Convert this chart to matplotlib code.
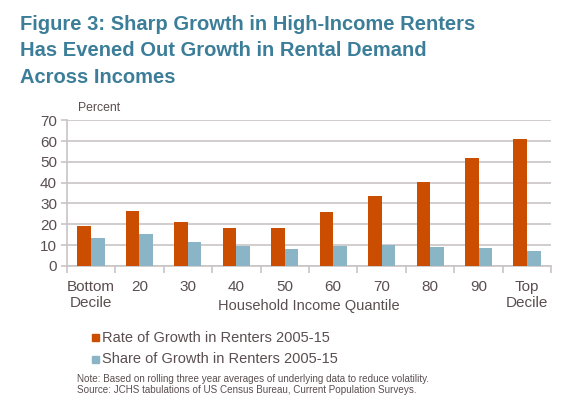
import matplotlib
matplotlib.use('Agg')
import numpy as np
import matplotlib.pyplot as plt
from matplotlib.patches import Rectangle

plt.rcParams['font.family'] = ['Liberation Sans', 'DejaVu Sans']

categories = ['Bottom\nDecile', '20', '30', '40', '50', '60', '70', '80', '90', 'Top\nDecile']
rate_growth = [19.0, 26.5, 21.0, 18.4, 18.3, 25.7, 33.5, 40.3, 51.9, 61.0]
share_growth = [13.6, 15.3, 11.3, 9.4, 8.3, 9.4, 10.1, 9.1, 8.6, 7.0]

ORANGE = '#CB4E00'
BLUE = '#8AB5C7'
TITLE = '#3C7E99'
TEXT = '#5A4E50'
GRID = '#C9C4C5'

fig = plt.figure(figsize=(5.76, 3.98), dpi=100)
ax = fig.add_axes([0.116, 0.332, 0.841, 0.366])

x = np.arange(len(categories))
w = 0.28
ax.bar(x - w / 2, rate_growth, w, color=ORANGE, zorder=3)
ax.bar(x + w / 2, share_growth, w, color=BLUE, zorder=3)

ax.set_xlim(-0.5, len(categories) - 0.5)
ax.set_ylim(0, 70)
ax.set_yticks(range(0, 71, 10))
ax.yaxis.grid(True, color=GRID, linewidth=1.2, zorder=0)
ax.set_axisbelow(True)
for s in ['top', 'right']:
    ax.spines[s].set_visible(False)
for s in ['left', 'bottom']:
    ax.spines[s].set_color(GRID)
    ax.spines[s].set_linewidth(1.2)

ax.set_xticks(x)
ax.set_xticklabels(categories, fontsize=11, color=TEXT, linespacing=1.2)
ax.tick_params(axis='x', length=0, pad=10)
ax.set_xticks(np.arange(-0.5, len(categories), 1), minor=True)
ax.tick_params(axis='x', which='minor', length=5, color=GRID, width=1.2)
ax.tick_params(axis='y', labelsize=11, labelcolor=TEXT, length=4, color=GRID, width=1.2, pad=3)

ax.set_xlabel('Household Income Quantile', fontsize=10.5, color=TEXT)
ax.xaxis.set_label_coords(0.5, -0.225)

fig.text(0.135, 0.722, 'Percent', fontsize=8.8, color=TEXT)

fig.text(0.035, 0.963, 'Figure 3: Sharp Growth in High-Income Renters\n'
         'Has Evened Out Growth in Rental Demand\nAcross Incomes',
         fontsize=14.5, fontweight='bold', color=TITLE, va='top', linespacing=1.5)

# legend
for i, (lab, col) in enumerate([('Rate of Growth in Renters 2005-15', ORANGE),
                                 ('Share of Growth in Renters 2005-15', BLUE)]):
    yy = 1 - (340 + i * 21.5) / 398
    fig.patches.append(Rectangle((92 / 576, yy - 1 / 398), 7 / 576, 7 / 398,
                                 transform=fig.transFigure, color=col))
    fig.text(102 / 576, yy + 2.5 / 398, lab, fontsize=10.5, color=TEXT, va='center')

fig.text(77 / 576, 1 - 384.5 / 398,
         'Note: Based on rolling three year averages of underlying data to reduce volatility.\n'
         'Source: JCHS tabulations of US Census Bureau, Current Population Surveys.',
         fontsize=7.1, color=TEXT, va='center', linespacing=1.1)

fig.savefig('out.png', dpi=100)
